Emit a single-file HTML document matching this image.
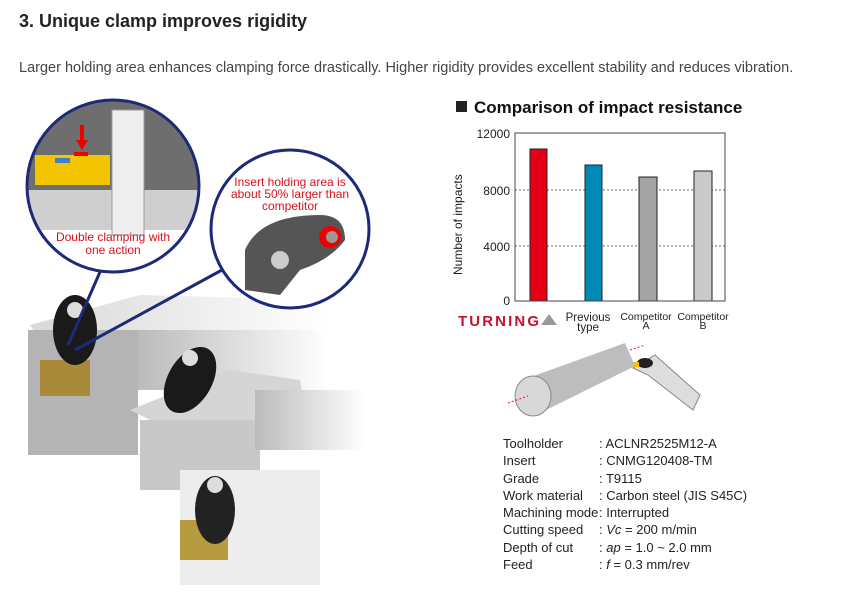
<!DOCTYPE html>
<html><head><meta charset="utf-8"><style>
body{margin:0;width:843px;height:605px;background:#fff;position:relative;overflow:hidden;font-family:"Liberation Sans",sans-serif;color:#333}
.t{position:absolute;white-space:nowrap}
</style></head><body>
<div class="t" style="left:19px;top:11px;font-size:18px;font-weight:bold;color:#222">3. Unique clamp improves rigidity</div>
<div class="t" style="left:19px;top:60px;font-size:14.5px;color:#444">Larger holding area enhances clamping force drastically. Higher rigidity provides excellent stability and reduces vibration.</div>

<svg width="843" height="605" style="position:absolute;left:0;top:0" xmlns="http://www.w3.org/2000/svg">
<defs>
<linearGradient id="fade" x1="0" y1="0" x2="1" y2="0"><stop offset="0" stop-color="#bbb"/><stop offset="1" stop-color="#fff"/></linearGradient>
<linearGradient id="fade2" x1="0" y1="0" x2="1" y2="0"><stop offset="0" stop-color="#d8d8d8"/><stop offset="1" stop-color="#fff"/></linearGradient>
<clipPath id="c1"><circle cx="113" cy="186" r="86"/></clipPath>
<clipPath id="c2"><circle cx="290" cy="229" r="79"/></clipPath>
</defs>
<!-- holders -->
<polygon points="30,325 140,295 330,300 330,340 140,350 60,370" fill="url(#fade2)"/>
<rect x="28" y="330" width="110" height="125" fill="#b4b4b4"/>
<rect x="138" y="330" width="190" height="60" fill="url(#fade)"/>
<rect x="40" y="360" width="50" height="36" fill="#a88a3a"/>
<ellipse cx="75" cy="330" rx="22" ry="35" fill="#1a1a1a"/>
<circle cx="75" cy="310" r="8" fill="#ddd"/>
<polygon points="130,410 230,370 300,380 310,440 170,430" fill="#d5d5d5"/>
<rect x="140" y="420" width="120" height="70" fill="#c8c8c8"/>
<rect x="255" y="390" width="110" height="60" fill="url(#fade)"/>
<ellipse cx="190" cy="380" rx="22" ry="36" fill="#1a1a1a" transform="rotate(30 190 380)"/>
<circle cx="190" cy="358" r="8" fill="#ddd"/>
<rect x="180" y="470" width="140" height="115" fill="#ededed"/>
<rect x="180" y="520" width="48" height="40" fill="#b89a40"/>
<ellipse cx="215" cy="510" rx="20" ry="34" fill="#222"/>
<circle cx="215" cy="485" r="8" fill="#ddd"/>
<!-- connector lines -->
<line x1="100" y1="272" x2="68" y2="345" stroke="#1c2a78" stroke-width="3"/>
<line x1="222" y1="270" x2="75" y2="350" stroke="#1c2a78" stroke-width="3"/>
<!-- circle 1 -->
<circle cx="113" cy="186" r="86" fill="#fff"/>
<g clip-path="url(#c1)">
<rect x="25" y="100" width="180" height="95" fill="#6e6e6e"/>
<rect x="25" y="190" width="180" height="40" fill="#cfcfcf"/>
<rect x="112" y="110" width="32" height="125" fill="#eee" stroke="#999"/>
<rect x="35" y="155" width="75" height="30" fill="#f2c500"/>
<rect x="74" y="152" width="14" height="4" fill="#e00"/>
<polygon points="80,125 84,125 84,140 88,140 82,150 76,140 80,140" fill="#e00"/>
<rect x="55" y="158" width="15" height="5" fill="#3a7fd0"/>
</g>
<circle cx="113" cy="186" r="86" fill="none" stroke="#1c2a78" stroke-width="3"/>
<!-- circle 2 -->
<circle cx="290" cy="229" r="79" fill="#fff"/>
<g clip-path="url(#c2)">
<path d="M245,250 Q260,215 320,215 Q345,215 345,240 Q330,260 300,270 L280,295 L245,290 Z" fill="#555"/>
<circle cx="330" cy="237" r="11" fill="#e00"/>
<circle cx="332" cy="237" r="6" fill="#999"/>
<circle cx="280" cy="260" r="9" fill="#ccc"/>
</g>
<circle cx="290" cy="229" r="79" fill="none" stroke="#1c2a78" stroke-width="3"/>
<text x="113" y="241" font-size="12" fill="#d8101c" text-anchor="middle" font-family="Liberation Sans">Double clamping with</text>
<text x="113" y="254" font-size="12" fill="#d8101c" text-anchor="middle" font-family="Liberation Sans">one action</text>
<text x="290" y="186" font-size="12" fill="#d8101c" text-anchor="middle" font-family="Liberation Sans">Insert holding area is</text>
<text x="290" y="198" font-size="12" fill="#d8101c" text-anchor="middle" font-family="Liberation Sans">about 50% larger than</text>
<text x="290" y="210" font-size="12" fill="#d8101c" text-anchor="middle" font-family="Liberation Sans">competitor</text>

<!-- chart -->
<rect x="456" y="101" width="11" height="11" fill="#222"/>
<text x="474" y="113" font-size="17" font-weight="bold" fill="#111" font-family="Liberation Sans">Comparison of impact resistance</text>
<line x1="515" y1="190" x2="725" y2="190" stroke="#666" stroke-dasharray="2,2"/>
<line x1="515" y1="246" x2="725" y2="246" stroke="#666" stroke-dasharray="2,2"/>
<rect x="530" y="149" width="17" height="152" fill="#e30016" stroke="#222"/>
<rect x="585" y="165" width="17" height="136" fill="#0089b5" stroke="#222"/>
<rect x="639" y="177" width="18" height="124" fill="#a3a3a3" stroke="#222"/>
<rect x="694" y="171" width="18" height="130" fill="#cacaca" stroke="#222"/>
<rect x="515" y="133" width="210" height="168" fill="none" stroke="#444"/>
<g font-size="12" fill="#222" text-anchor="end" font-family="Liberation Sans">
<text x="510" y="138">12000</text><text x="510" y="195">8000</text><text x="510" y="251">4000</text><text x="510" y="305">0</text></g>
<text transform="translate(462 275) rotate(-90)" font-size="12" fill="#222" font-family="Liberation Sans">Number of impacts</text>
<text x="458" y="326" font-size="15" font-weight="900" fill="#c8102e" font-family="Liberation Sans" letter-spacing="1" textLength="82">TURNING</text>
<polygon points="541,325 549,314 557,325" fill="#999"/>
<g font-size="11.5" fill="#222" text-anchor="middle" font-family="Liberation Sans">
<text x="588" y="321">Previous</text><text x="588" y="331">type</text>
<text x="646" y="320" font-size="10.5">Competitor</text><text x="646" y="329" font-size="10.5">A</text>
<text x="703" y="320" font-size="10.5">Competitor</text><text x="703" y="329" font-size="10.5">B</text></g>
<!-- workpiece -->
<polygon points="528,378 625,343 635,366 540,413" fill="#bdbdbd"/>
<ellipse cx="533" cy="396" rx="18" ry="20" fill="#d8d8d8" stroke="#888"/>
<line x1="508" y1="403" x2="528" y2="396" stroke="#e06" stroke-dasharray="2,2"/>
<line x1="630" y1="350" x2="645" y2="345" stroke="#e06" stroke-dasharray="2,2"/>
<polygon points="633,368 655,355 700,395 693,410 648,375" fill="#ddd" stroke="#888"/>
<ellipse cx="645" cy="363" rx="8" ry="5" fill="#222"/>
<rect x="633" y="362" width="6" height="5" fill="#f2c500"/>
</svg>

<div style="position:absolute;left:503px;top:435px;font-size:13px;color:#222;line-height:17.3px">
<div>Toolholder</div><div>Insert</div><div>Grade</div><div>Work material</div><div>Machining mode</div><div>Cutting speed</div><div>Depth of cut</div><div>Feed</div></div>
<div style="position:absolute;left:599px;top:435px;font-size:13px;color:#222;line-height:17.3px;white-space:nowrap">
<div>: ACLNR2525M12-A</div><div>: CNMG120408-TM</div><div>: T9115</div><div>: Carbon steel (JIS S45C)</div><div>: Interrupted</div><div>: <i>Vc</i> = 200 m/min</div><div>: <i>ap</i> = 1.0 ~ 2.0 mm</div><div>: <i>f</i> = 0.3 mm/rev</div></div>
</body></html>
